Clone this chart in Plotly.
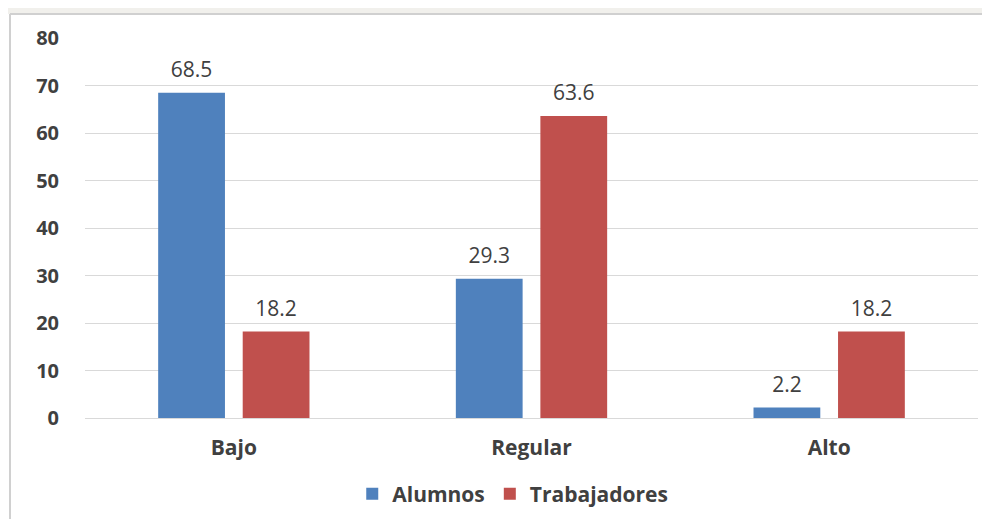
import plotly.graph_objects as go

categories = ["Bajo", "Regular", "Alto"]
alumnos = [68.5, 29.3, 2.2]
trabajadores = [18.2, 63.6, 18.2]
y_ticks = [0, 10, 20, 30, 40, 50, 60, 70, 80]

BLUE = "#4f81bd"
RED = "#c0504d"
TEXT = "#404040"
FONT = "Open Sans"

fig = go.Figure()

for name, values, color in [
    ("Alumnos", alumnos, BLUE),
    ("Trabajadores", trabajadores, RED),
]:
    fig.add_trace(
        go.Bar(
            x=categories,
            y=values,
            name=name,
            marker=dict(color=color, line=dict(width=0)),
            # small empty second line lifts the label off the bar top
            text=[f"<span style='font-size:21px'>{v:.1f}</span><br> " for v in values],
            textposition="outside",
            cliponaxis=False,
            textfont=dict(family=FONT, size=8, color=TEXT),
        )
    )

# chart frame (top and left border, light watermark strip above)
fig.add_shape(
    type="rect", xref="paper", yref="paper",
    x0=-0.2, x1=1.2, y0=1.063, y1=1.2,
    fillcolor="#f1f0ec", line=dict(width=0), layer="below",
)
fig.add_shape(
    type="line", xref="paper", yref="paper",
    x0=-0.084, x1=1.1, y0=1.063, y1=1.063,
    line=dict(color="#d0d0d0", width=2),
)
fig.add_shape(
    type="line", xref="paper", yref="paper",
    x0=-0.084, x1=-0.084, y0=1.063, y1=-0.4,
    line=dict(color="#d0d0d0", width=2),
)

# page body has an 8px margin, so margins are shifted accordingly
fig.update_layout(
    width=990,
    height=519,
    barmode="group",
    bargap=0.432,
    bargroupgap=0.21,
    paper_bgcolor="white",
    plot_bgcolor="white",
    margin=dict(l=77, r=20, t=30, b=109),
    font=dict(family=FONT, color=TEXT),
    uniformtext=dict(minsize=0, mode=False),
    showlegend=True,
    legend=dict(
        orientation="h",
        x=0.479, xanchor="center",
        y=-0.2, yanchor="middle",
        font=dict(family=FONT, size=21, color=TEXT, weight="bold"),
        itemwidth=30,
        traceorder="normal",
    ),
)

fig.update_xaxes(
    showgrid=False,
    showline=False,
    ticks="",
    tickfont=dict(family=FONT, size=21, color=TEXT, weight="bold"),
    ticklabelstandoff=15,
)
fig.update_yaxes(
    range=[0, 80],
    tickvals=y_ticks,
    showgrid=True,
    gridcolor="#d9d9d9",
    gridwidth=1,
    zeroline=True,
    zerolinecolor="#d9d9d9",
    zerolinewidth=1,
    showline=False,
    ticks="",
    tickfont=dict(family=FONT, size=20, color=TEXT, weight="bold"),
    ticklabelstandoff=25,
)

fig.write_html("out.html")
